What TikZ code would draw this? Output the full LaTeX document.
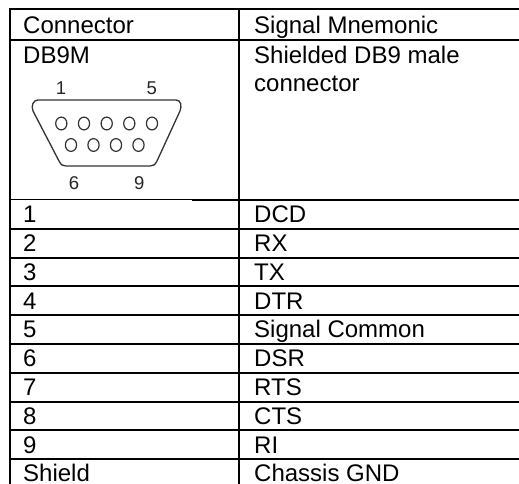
\documentclass[tikz,border=0pt]{standalone}
\usepackage{fontspec}
\setmainfont{Liberation Sans}
\begin{document}
\begin{tikzpicture}[x=1pt,y=-1pt,
  rule/.style={line width=2pt,black},
  hrule/.style={line width=2.6pt,black},
  cell/.style={anchor=base west,inner sep=0pt,font=\fontsize{24}{27.6}\selectfont},
  pinlabel/.style={anchor=base,inner sep=0pt,font=\fontsize{18.5}{20}\selectfont,text=black!85},
  shell/.style={line width=1.3pt,black!80,line join=round},
  pin/.style={line width=1.2pt,black!80}]
\useasboundingbox (0,0) rectangle (519,484);
% table rules
\draw[rule] (10,9.3) -- (525,9.3);
\draw[rule] (10,8.3) -- (10,490);
\draw[rule] (239.3,8.3) -- (239.3,490);
\draw[hrule] (9,40) -- (525,40);
\draw[line width=1.2pt] (9,199.3) -- (192,199.3);
\draw[rule] (192,200) -- (525,200);
\foreach \i in {1,...,9} {
  \draw[rule] (9,{200+28.8*\i}) -- (525,{200+28.8*\i});
}
% header
\node[cell] (h1) at (23,33.3) {Connector};
\node[cell] (h2) at (254,33.3) {Signal Mnemonic};
% connector cell
\node[cell] (db) at (23,64) {DB9M};
\node[cell,align=left,anchor=north west] (desc) at (254,46) {Shielded DB9 male\\connector};
% connector drawing
\draw[shell] (38,100) -- (176,100) .. controls (181,100) and (182,106) .. (180,111)
  -- (157,161) .. controls (155,165) and (153,166) .. (150,166) -- (66,166)
  .. controls (63,166) and (61,165) .. (59,161) -- (33,111)
  .. controls (31,106) and (33,100) .. (38,100) -- cycle;
\foreach \k/\x in {1/61.3,2/84,3/106.7,4/129.3,5/152} {
  \draw[pin] (\x,123.5) ellipse [x radius=5.6, y radius=6.4];
}
\foreach \k/\x in {6/71,7/93.5,8/116,9/138.5} {
  \draw[pin] (\x,145) ellipse [x radius=5.6, y radius=6.4];
}
\node[pinlabel] (l1) at (61,95) {1};
\node[pinlabel] (l5) at (151.7,95) {5};
\node[pinlabel] (l6) at (74,189) {6};
\node[pinlabel] (l9) at (139.3,189) {9};
% rows
\foreach \i/\a/\b in {0/1/DCD,1/2/RX,2/3/TX,3/4/DTR,4/5/Signal Common,5/6/DSR,6/7/RTS,7/8/CTS,8/9/RI,9/Shield/Chassis GND} {
  \node[cell] (a\i) at (23,{222.6+28.8*\i}) {\a};
  \node[cell] (b\i) at (254,{222.6+28.8*\i}) {\b};
}
\end{tikzpicture}
\end{document}
